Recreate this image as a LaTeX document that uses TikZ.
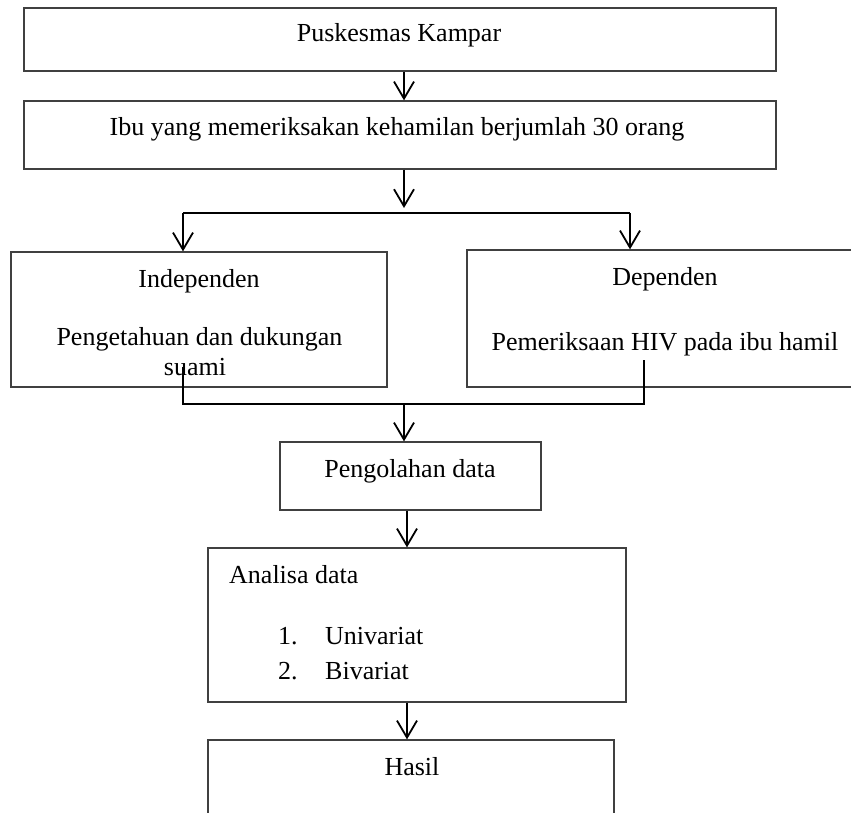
\documentclass[tikz,border=0pt]{standalone}
\usepackage{fontspec}
\setmainfont{Liberation Serif}
\usetikzlibrary{arrows.meta}
\begin{document}
\begin{tikzpicture}[x=1pt,y=-1pt,
  box/.style={draw=black!75, line width=1.3pt, inner sep=0pt, minimum width=#1},
  txt/.style={inner sep=0pt, anchor=base, font=\fontsize{26}{31}\selectfont},
  conn/.style={line width=1.8pt, black},
  arr/.style={conn, -{Straight Barb[length=17pt,width=20pt,line width=1.8pt]}}]
\useasboundingbox (0,0) rectangle (851,812);
\clip (0,0) rectangle (851,812);
% boxes
\node[box=752pt, minimum height=63pt] (b1) at (400,39.5) {};
\node[box=752pt, minimum height=68pt] (b2) at (400,135) {};
\node[box=376pt, minimum height=135pt] (ind) at (199,319.5) {};
\node[box=420pt, minimum height=137pt] (dep) at (677,318.5) {};
\node[box=261pt, minimum height=68pt] (peng) at (410.5,476) {};
\node[box=418pt, minimum height=154pt] (ana) at (417,625) {};
\node[box=406pt, minimum height=160pt] (hasil) at (411,820) {};
% texts
\node[txt] (t1) at (399,41) {Puskesmas Kampar};
\node[txt] (t2) at (397,135) {Ibu yang memeriksakan kehamilan berjumlah 30 orang};
\node[txt] (t3) at (199,287) {Independen};
\node[txt] (t4) at (199.5,345) {Pengetahuan dan dukungan};
\node[txt] (t5) at (195,375) {suami};
\node[txt] (t6) at (665,285) {Dependen};
\node[txt] (t7) at (665,350) {Pemeriksaan HIV pada ibu hamil};
\node[txt] (t8) at (410,477) {Pengolahan data};
\node[txt, anchor=base west] (t9) at (229,583) {Analisa data};
\node[txt, anchor=base west] (t10) at (278,644) {1.};
\node[txt, anchor=base west] (t11) at (325,644) {Univariat};
\node[txt, anchor=base west] (t12) at (278,679) {2.};
\node[txt, anchor=base west] (t13) at (325,679) {Bivariat};
\node[txt] (t14) at (412,775) {Hasil};
% connector helper coordinates
\coordinate (cx) at (404,0);
\coordinate (cy) at (407,0);
\coordinate (j1) at (404,208);
\coordinate (jl) at (183,213);
\coordinate (jr) at (630,213);
\coordinate (ql) at (183,367);
\coordinate (qr) at (644,360);
\coordinate (ml) at (183,404);
\coordinate (mr) at (644,404);
\coordinate (mm) at (404,404);
% connectors
\draw[arr] (b1.south -| cx) -- (b2.north -| cx);
\draw[arr] (b2.south -| cx) -- (j1);
\draw[conn] (jl) -- (jr);
\draw[arr] (jl) -- (ind.north -| jl);
\draw[arr] (jr) -- (dep.north -| jr);
\draw[conn] (ql) -- (ml) -- (mr) -- (qr);
\draw[arr] (mm) -- (peng.north -| mm);
\draw[arr] (peng.south -| cy) -- (ana.north -| cy);
\draw[arr] (ana.south -| cy) -- (hasil.north -| cy);
\end{tikzpicture}
\end{document}
